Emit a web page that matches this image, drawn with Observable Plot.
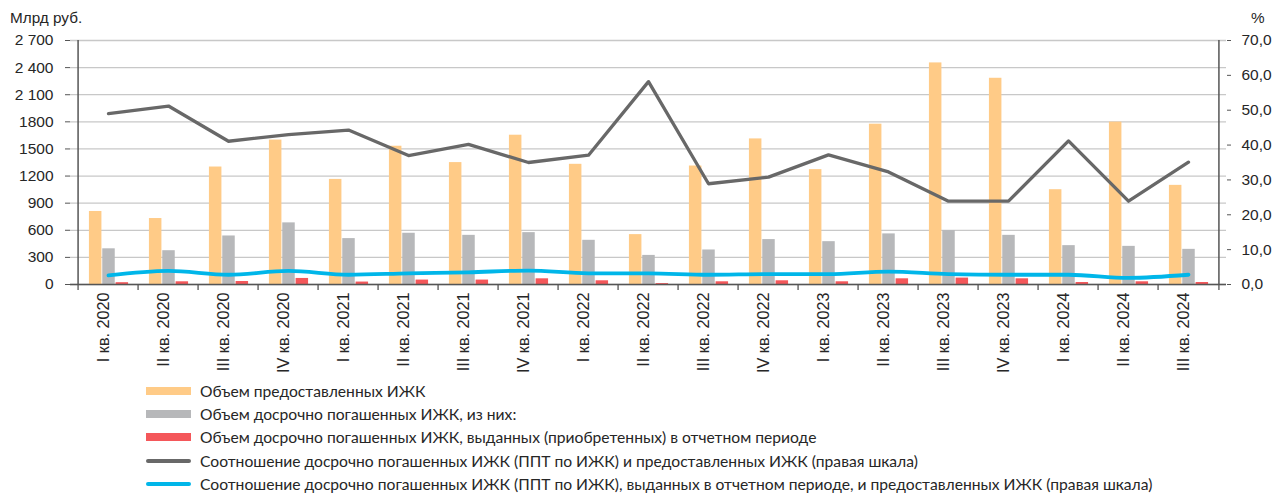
<!DOCTYPE html>
<html><head><meta charset="utf-8">
<script src="https://cdn.jsdelivr.net/npm/d3@7"></script>
<script src="https://cdn.jsdelivr.net/npm/@observablehq/plot@0.6"></script>
<style>
body{margin:0;background:#fff;}
#wrap{position:relative;width:1284px;height:495px;overflow:hidden;}
#chart svg{display:block;}
.ttl{position:absolute;font-family:"Liberation Sans",Arial,sans-serif;font-size:15.3px;color:#262626;}
#legend{position:absolute;left:146px;top:379px;font-family:Lato,sans-serif;font-size:15.65px;color:#262626;}
.row{display:flex;align-items:center;height:23.4px;}
.sw{width:45px;margin-right:9px;}
</style></head><body>
<div id="wrap">
<div id="chart"></div>
<div class="ttl" style="left:10px;top:9px;">Млрд руб.</div>
<div class="ttl" style="left:1251px;top:9px;">%</div>
<div id="legend"></div>
</div>
<script>
const quarters = ["I кв. 2020","II кв. 2020","III кв. 2020","IV кв. 2020","I кв. 2021","II кв. 2021","III кв. 2021","IV кв. 2021","I кв. 2022","II кв. 2022","III кв. 2022","IV кв. 2022","I кв. 2023","II кв. 2023","III кв. 2023","IV кв. 2023","I кв. 2024","II кв. 2024","III кв. 2024"];
const issued      = [808, 730, 1300, 1598, 1163, 1530, 1349, 1652, 1330, 552, 1311, 1611, 1271, 1774, 2452, 2282, 1049, 1797, 1097];
const prepaid     = [395, 374, 537, 682, 508, 567, 544, 574, 489, 322, 382, 497, 474, 560, 597, 544, 430, 422, 389];
const prepaidSame = [20, 30, 33, 67, 27, 49, 49, 63, 41, 10, 30, 41, 30, 63, 71, 63, 22, 30, 22];
const ratioAll    = [49.0, 51.2, 41.1, 43.0, 44.3, 37.0, 40.2, 35.0, 37.1, 58.2, 28.9, 30.8, 37.2, 32.3, 23.9, 23.9, 41.2, 23.9, 35.1];
const ratioSame   = [2.6, 3.9, 2.8, 3.9, 2.8, 3.2, 3.5, 4.0, 3.2, 3.2, 2.8, 3.0, 3.0, 3.7, 3.0, 2.8, 2.8, 1.9, 2.8];
const leftTicks = [0, 300, 600, 900, 1200, 1500, 1800, 2100, 2400, 2700];
const leftTickLabels = ["0", "300", "600", "900", "1200", "1500", "1800", "2 100", "2 400", "2 700"];
const rightTicks = [0, 10, 20, 30, 40, 50, 60, 70];
const legendNames = [
  "Объем предоставленных ИЖК",
  "Объем досрочно погашенных ИЖК, из них:",
  "Объем досрочно погашенных ИЖК, выданных (приобретенных) в отчетном периоде",
  "Соотношение досрочно погашенных ИЖК (ППТ по ИЖК) и предоставленных ИЖК (правая шкала)",
  "Соотношение досрочно погашенных ИЖК (ППТ по ИЖК), выданных в отчетном периоде, и предоставленных ИЖК (правая шкала)"
];
const colors = ["#FFCB87", "#B7B8BA", "#F4575A", "#686868", "#00B6E9"];
const legendKinds = ["bar", "bar", "bar", "line", "line"];

const W = 1284, H = 378, mL = 70, mR = 58, mT = 40, mB = 94;
const leftMax = 2700, rightMax = 70, k = leftMax / rightMax;
const bw = (W - mL - mR) / quarters.length;
const pad = (bw - 40) / 2 + 0.5, sub = 40 / 3;
const axisColor = "#555";
const textColor = "#262626";

const mk = (arr, f = v => v) => quarters.map((q, i) => ({q, v: f(arr[i])}));
const bars = [issued, prepaid, prepaidSame];

const plot = Plot.plot({
  width: W, height: H,
  marginLeft: mL, marginRight: mR, marginTop: mT, marginBottom: mB,
  style: {fontFamily: '"Liberation Sans", Arial, sans-serif', color: textColor, background: "#fff"},
  x: {type: "band", domain: quarters, padding: 0, axis: null, label: null},
  y: {domain: [0, leftMax], axis: null, label: null},
  marks: [
    Plot.gridY(leftTicks, {stroke: "#C8C8C8", strokeOpacity: 1, strokeWidth: 1.3}),
    ...bars.map((arr, j) => Plot.barY(mk(arr), {
      x: "q", y: "v", fill: colors[j],
      insetLeft: pad + j * sub, insetRight: bw - pad - (j + 1) * sub
    })),
    Plot.line(mk(ratioAll, v => v * k), {x: "q", y: "v", stroke: colors[3], strokeWidth: 3.3}),
    Plot.line(mk(ratioSame, v => v * k), {x: "q", y: "v", stroke: colors[4], strokeWidth: 3.8, curve: "monotone-x"}),
    Plot.ruleY([0], {stroke: axisColor, strokeWidth: 1.5}),
    Plot.ruleX([quarters[0]], {x: d => d, dx: -bw / 2, stroke: axisColor, strokeWidth: 1.5}),
    Plot.ruleX([quarters[quarters.length - 1]], {x: d => d, dx: bw / 2, stroke: axisColor, strokeWidth: 1.5}),
    Plot.axisX(quarters, {tickSize: 6, tickFormat: () => "", dx: -bw / 2, stroke: axisColor, strokeWidth: 1.3, label: null}),
    Plot.axisX([quarters[quarters.length - 1]], {tickSize: 6, tickFormat: () => "", dx: bw / 2, stroke: axisColor, strokeWidth: 1.3, label: null}),
    Plot.axisX(quarters, {tickSize: 0, tickRotate: -90, tickPadding: 8, fontSize: 16.2, fill: textColor, dx: -5, label: null}),
    Plot.axisY(leftTicks, {anchor: "left", tickSize: 5, tickPadding: 12, fontSize: 15.5, fill: textColor, stroke: axisColor, label: null,
      tickFormat: d => leftTickLabels[leftTicks.indexOf(d)]}),
    Plot.axisY(rightTicks.map(v => v * k), {anchor: "right", tickSize: 4, tickPadding: 11, fontSize: 15.5, fill: textColor, stroke: axisColor, label: null,
      tickFormat: d => (d / k).toFixed(1).replace(".", ",")})
  ]
});
document.getElementById("chart").appendChild(plot);

const lg = document.getElementById("legend");
legendNames.forEach((name, i) => {
  const row = document.createElement("div");
  row.className = "row";
  const sw = document.createElement("div");
  sw.className = "sw";
  sw.style.height = legendKinds[i] === "bar" ? "8px" : "4px";
  sw.style.background = colors[i];
  if (legendKinds[i] === "line") sw.style.borderRadius = "2px";
  const t = document.createElement("span");
  t.textContent = name;
  row.appendChild(sw); row.appendChild(t);
  lg.appendChild(row);
});
</script>
</body></html>
